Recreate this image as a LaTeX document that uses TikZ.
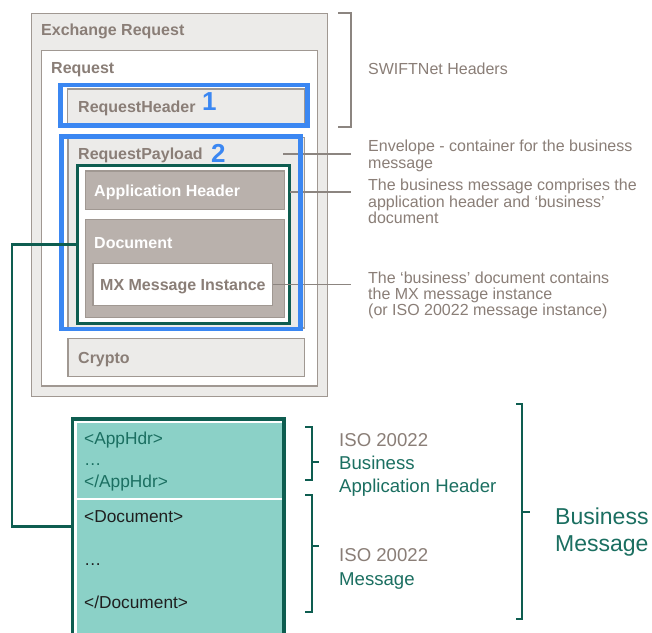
\documentclass[tikz,border=0pt]{standalone}
\usepackage{fontspec}
\setmainfont{Liberation Sans}
\definecolor{tgray}{RGB}{138,126,119}
\definecolor{bgray}{RGB}{160,152,146}
\definecolor{lfill}{RGB}{236,235,233}
\definecolor{taupe}{RGB}{185,177,172}
\definecolor{blu}{RGB}{59,135,242}
\definecolor{dteal}{RGB}{14,93,80}
\definecolor{tealtxt}{RGB}{27,111,97}
\definecolor{lteal}{RGB}{139,209,199}
\definecolor{lgray}{RGB}{140,133,128}
\begin{document}
\begin{tikzpicture}[x=1pt,y=-1pt,
  rbox/.style={draw=bgray, line width=1.6pt, fill=lfill, inner sep=0pt, outer sep=0pt, anchor=north west},
  tbox/.style={rbox, fill=taupe, draw=bgray},
  gbox/.style={draw=dteal, line width=3.5pt, fill=white, inner sep=0pt, outer sep=0pt, anchor=north west},
  bluebox/.style={draw=blu, line width=4.5pt, inner sep=0pt, outer sep=0pt, anchor=north west},
  lbl/.style={anchor=base west, inner sep=0pt, text=tgray, font=\bfseries\fontsize{16}{16}\selectfont},
  wlbl/.style={lbl, text=white},
  num/.style={anchor=base west, inner sep=0pt, text=blu, font=\bfseries\fontsize{26}{26}\selectfont},
  rtxt/.style={anchor=base west, inner sep=0pt, text=tgray, font=\fontsize{16}{16.3}\selectfont},
  gline/.style={draw=lgray, line width=1.3pt},
  gconn/.style={draw=dteal, line width=2.3pt},
  brk/.style={draw=dteal, line width=2.5pt},
  btxt/.style={anchor=base west, inner sep=0pt, font=\fontsize{17.3}{17.3}\selectfont},
  iso/.style={anchor=base west, inner sep=0pt, text=tealtxt, font=\fontsize{18.6}{23.3}\selectfont},
  bigtxt/.style={anchor=base west, inner sep=0pt, text=tealtxt, font=\fontsize{23}{27.7}\selectfont}
]
\useasboundingbox (0,0) rectangle (652,632);
\path[fill=white] (0,0) rectangle (652,632);

% top structure
\node[rbox, minimum width=296pt, minimum height=383pt] (exch) at (31.5,13.5) {};
\node[rbox, fill=white, minimum width=276pt, minimum height=335.5pt] (req) at (41.5,50.5) {};
\node[rbox, minimum width=237pt, minimum height=35pt] (rhead) at (67.5,89) {};
\node[rbox, minimum width=236.5pt, minimum height=190.5pt] (rpay) at (68,137.5) {};
\node[rbox, minimum width=236.5pt, minimum height=38pt] (crypto) at (68,338.5) {};
\node[gbox, minimum width=212pt, minimum height=158pt] (env) at (77.5,165.5) {};
\node[tbox, minimum width=199pt, minimum height=38.5pt] (apph) at (85.5,171) {};
\node[tbox, minimum width=199pt, minimum height=98pt] (doc) at (85.5,219.5) {};
\node[rbox, fill=white, minimum width=179.5pt, minimum height=42pt] (mx) at (93,263.5) {};

\node[lbl] (lexch) at (41,35.5) {Exchange Request};
\node[lbl] (lreq) at (51,73.5) {Request};
\node[lbl] (lrhead) at (78,112.5) {RequestHeader};
\node[lbl] (lrpay) at (78,159) {RequestPayload};
\node[wlbl] (lapph) at (94,196) {Application Header};
\node[wlbl] (ldoc) at (94,248) {Document};
\node[lbl] (lmx) at (100,290) {MX Message Instance};
\node[lbl] (lcrypto) at (78,363.3) {Crypto};

% gray callout lines
\coordinate (sb1) at (338,13);
\coordinate (sb2) at (351,13);
\coordinate (sb3) at (351,127);
\coordinate (sb4) at (338,127);
\draw[gline] (sb1) -- (sb2) -- (sb3) -- (sb4);
\coordinate (k1a) at (283,154);
\coordinate (k1) at (351,154);
\coordinate (k2) at (351,192);
\coordinate (k3) at (351,284);
\draw[gline] (k1a) -- (k1);
\draw[gline] (env.east |- k2) -- (k2);
\draw[gline] (mx.east) -- (mx.east -| k3);

% blue highlight boxes
\node[bluebox, minimum width=247pt, minimum height=40.5pt] (b1) at (60.5,85) {};
\node[bluebox, minimum width=239pt, minimum height=192.5pt] (b2) at (61.5,136.5) {};
\node[num] (n1) at (202,110) {1};
\node[num] (n2) at (211,162.3) {2};

% right texts
\node[rtxt] (t1) at (368,74) {SWIFTNet Headers};
\node[rtxt] (t2) at (368,151.7) {\vtop{\hbox{Envelope - container for the business}\hbox{message}}};
\node[rtxt] (t3) at (368,190.7) {\vtop{\hbox{The business message comprises the}\hbox{application header and ‘business’}\hbox{document}}};
\node[rtxt] (t4) at (368,283.3) {\vtop{\hbox{The ‘business’ document contains}\hbox{the MX message instance}\hbox{(or ISO 20022 message instance)}}};

% bottom message box (runs past the lower edge)
\node[fill=lteal, draw=white, line width=1pt, inner sep=0pt, outer sep=0pt, anchor=north west, minimum width=206pt, minimum height=230pt] (bmfill) at (76,422) {};
\coordinate (sep) at (0,499);
\draw[white, line width=1.5pt] (bmfill.west |- sep) -- (bmfill.east |- sep);
\node[draw=dteal, line width=3.5pt, inner sep=0pt, outer sep=0pt, anchor=north west, minimum width=211.5pt, minimum height=240pt] (bm) at (72.5,419) {};

\node[btxt, text=tealtxt] (x1) at (84,444) {<AppHdr>};
\node[btxt, text=tealtxt] (x2) at (84,465) {…};
\node[btxt, text=tealtxt] (x3) at (84,487.3) {</AppHdr>};
\node[btxt, text=black!88] (x4) at (84,522) {<Document>};
\node[btxt, text=black!88] (x5) at (84,565) {…};
\node[btxt, text=black!88] (x6) at (84,608.3) {</Document>};

% green connector
\coordinate (kg) at (12,526.5);
\draw[gconn] (env.west) -| (kg) -- (bm.west |- kg);

% brackets
\coordinate (a1) at (305,427); \coordinate (a2) at (312,427);
\coordinate (a3) at (312,480); \coordinate (a4) at (305,480);
\coordinate (a5) at (312,462); \coordinate (a6) at (319,462);
\draw[brk] (a1) -- (a2) -- (a3) -- (a4);
\draw[brk] (a5) -- (a6);
\coordinate (c1) at (305,495); \coordinate (c2) at (312,495);
\coordinate (c3) at (312,612); \coordinate (c4) at (305,612);
\coordinate (c5) at (312,546); \coordinate (c6) at (319,546);
\draw[brk] (c1) -- (c2) -- (c3) -- (c4);
\draw[brk] (c5) -- (c6);
\coordinate (d1) at (516,404); \coordinate (d2) at (522,404);
\coordinate (d3) at (522,619); \coordinate (d4) at (516,619);
\coordinate (d5) at (522,512); \coordinate (d6) at (530,512);
\draw[brk] (d1) -- (d2) -- (d3) -- (d4);
\draw[brk] (d5) -- (d6);

\node[iso] (i1) at (339,446) {\vtop{\hbox{\color{tgray}ISO 20022}\hbox{Business}\hbox{Application Header}}};
\node[iso] (i2) at (339,561.7) {\vtop{\hbox{\color{tgray}ISO 20022}\hbox{Message}}};
\node[bigtxt] (bmsg) at (555,524) {\vtop{\hbox{Business}\hbox{Message}}};
\end{tikzpicture}
\end{document}
